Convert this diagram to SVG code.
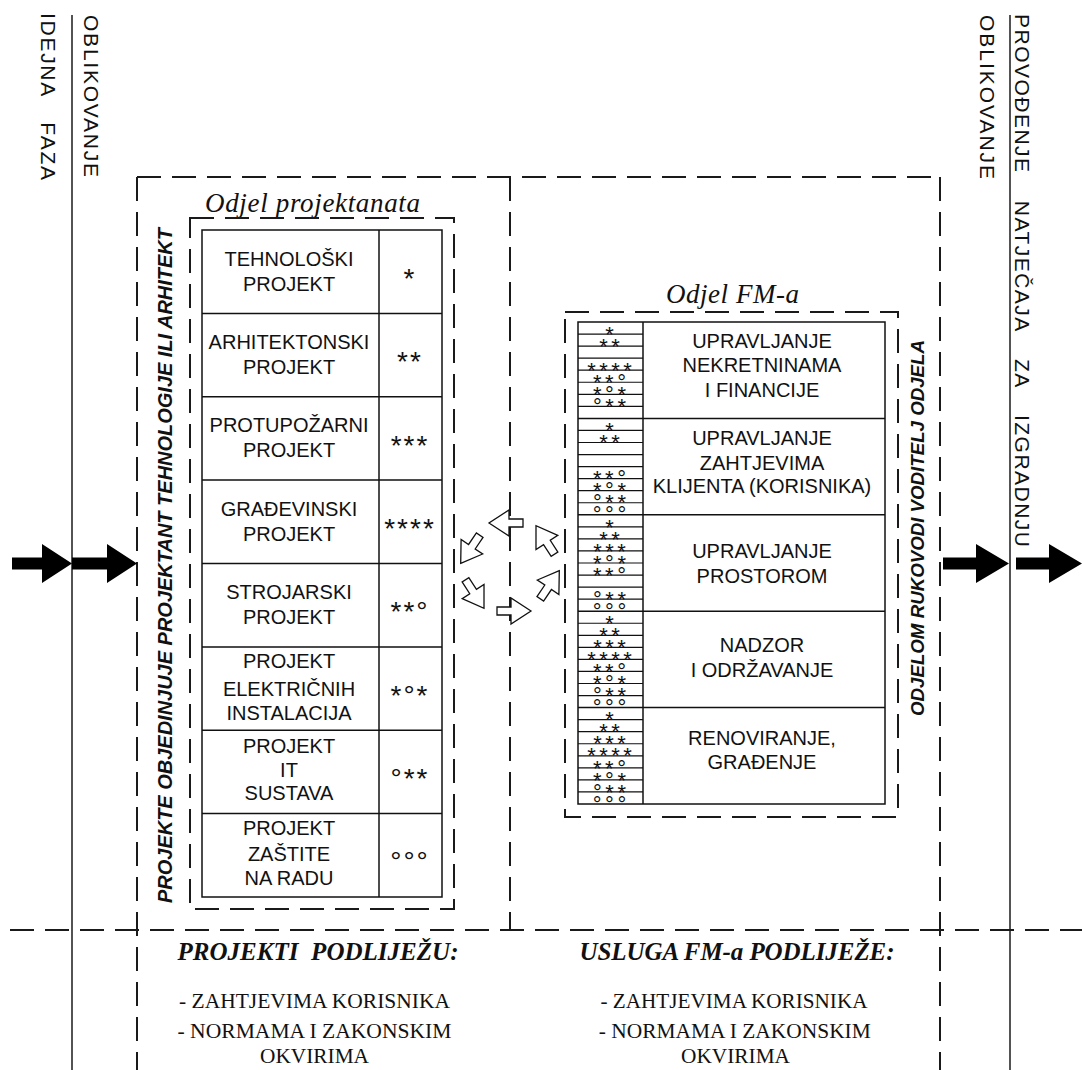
<svg xmlns="http://www.w3.org/2000/svg" width="1082" height="1070" viewBox="0 0 1082 1070">
<style>
.solid{stroke:#1a1a1a;stroke-width:1.5;fill:none}
.dash{stroke:#1a1a1a;stroke-width:2;fill:none;stroke-dasharray:24 11}
.tbl{stroke:#111;stroke-width:1.5;fill:none}
.sub{stroke:#111;stroke-width:1.2;fill:none}
.t{font-family:"Liberation Sans",Arial,sans-serif;font-size:20px;fill:#111;text-anchor:middle}
.sym{font-family:"Liberation Sans",Arial,sans-serif;font-size:28px;fill:#111;text-anchor:middle;letter-spacing:2px}
.sym2{font-family:"Liberation Sans",Arial,sans-serif;font-size:22px;fill:#111;text-anchor:middle;letter-spacing:3.5px}
.vt{font-family:"Liberation Sans",Arial,sans-serif;font-size:21px;fill:#111}
.vb{font-family:"Liberation Sans",Arial,sans-serif;font-weight:bold;font-style:italic;fill:#111;text-anchor:middle}
.ti{font-family:"Liberation Serif","Times New Roman",serif;font-style:italic;font-size:27px;fill:#111;text-anchor:middle}
.bt{font-family:"Liberation Serif","Times New Roman",serif;font-weight:bold;font-style:italic;font-size:25px;fill:#111;text-anchor:middle}
.bl{font-family:"Liberation Serif","Times New Roman",serif;font-size:22px;fill:#111;text-anchor:middle}
.big{fill:#000}
.small{fill:#fff;stroke:#111;stroke-width:1.3;stroke-linejoin:miter}
</style>
<defs>
<polygon id="sa" points="0,0 -20,-13 -20,-4 -34,-4 -34,4 -20,4 -20,13"/>
</defs>
<rect width="1082" height="1070" fill="#fff"/>

<g id="frame">
<line class="solid" x1="72" y1="15" x2="72" y2="1070"/>
<line class="solid" x1="1010" y1="15" x2="1010" y2="1070"/>
<line class="dash" x1="137" y1="177" x2="940" y2="177"/>
<line class="dash" x1="137" y1="177" x2="137" y2="1070"/>
<line class="dash" x1="940" y1="177" x2="940" y2="1070"/>
<line class="dash" x1="510" y1="177" x2="510" y2="930"/>
<line class="dash" x1="10" y1="930" x2="1082" y2="930"/>
</g>

<g id="phase-labels">
<text class="vt" transform="translate(41,13) rotate(90)" textLength="167" lengthAdjust="spacing" word-spacing="18">IDEJNA FAZA</text>
<text class="vt" transform="translate(84,15) rotate(90)" textLength="162" lengthAdjust="spacing">OBLIKOVANJE</text>
<text class="vt" transform="translate(980,15) rotate(90)" textLength="164" lengthAdjust="spacing">OBLIKOVANJE</text>
<text class="vt" transform="translate(1015,14) rotate(90)" textLength="533" lengthAdjust="spacing" word-spacing="20">PROVOĐENJE NATJEČAJA ZA IZGRADNJU</text>
</g>

<g id="projects-dept">
<text class="vb" font-size="20" transform="translate(172,565.5) rotate(-90)" textLength="675" lengthAdjust="spacingAndGlyphs">PROJEKTE OBJEDINJUJE PROJEKTANT TEHNOLOGIJE ILI ARHITEKT</text>
<text class="ti" x="312.5" y="212" textLength="215" lengthAdjust="spacing">Odjel projektanata</text>
<rect class="dash" x="190" y="218" width="264" height="691"/>
<rect class="tbl" x="202" y="230" width="240" height="667"/>
<line class="tbl" x1="379" y1="230" x2="379" y2="897"/>
<path class="tbl" d="M202 313.4H442M202 396.75H442M202 480.1H442M202 563.5H442M202 646.9H442M202 730.25H442M202 813.6H442"/>
<g id="p1"><text class="t" x="289" y="265.5">TEHNOLOŠKI</text><text class="t" x="289" y="290.5">PROJEKT</text><text class="sym" x="410" y="288">*</text></g>
<g id="p2"><text class="t" x="289" y="349">ARHITEKTONSKI</text><text class="t" x="289" y="374">PROJEKT</text><text class="sym" x="410" y="371">**</text></g>
<g id="p3"><text class="t" x="289" y="432">PROTUPOŽARNI</text><text class="t" x="289" y="457">PROJEKT</text><text class="sym" x="410" y="454.5">***</text></g>
<g id="p4"><text class="t" x="289" y="516">GRAĐEVINSKI</text><text class="t" x="289" y="541">PROJEKT</text><text class="sym" x="410" y="538">****</text></g>
<g id="p5"><text class="t" x="289" y="599">STROJARSKI</text><text class="t" x="289" y="623.5">PROJEKT</text><text class="sym" x="410" y="621">**°</text></g>
<g id="p6"><text class="t" x="289" y="668">PROJEKT</text><text class="t" x="289" y="696">ELEKTRIČNIH</text><text class="t" x="289" y="720">INSTALACIJA</text><text class="sym" x="410" y="704.5">*°*</text></g>
<g id="p7"><text class="t" x="289" y="753">PROJEKT</text><text class="t" x="289" y="777">IT</text><text class="t" x="289" y="800">SUSTAVA</text><text class="sym" x="410" y="788">°**</text></g>
<g id="p8"><text class="t" x="289" y="835">PROJEKT</text><text class="t" x="289" y="861">ZAŠTITE</text><text class="t" x="289" y="885">NA RADU</text><text class="sym" x="410" y="871">°°°</text></g>
</g>

<g id="fm-dept">
<text class="ti" x="732.5" y="303" textLength="133" lengthAdjust="spacing">Odjel FM-a</text>
<rect class="dash" x="565" y="312" width="333" height="505"/>
<rect class="tbl" x="578" y="322" width="307" height="482"/>
<line class="tbl" x1="643" y1="322" x2="643" y2="804"/>
<path class="tbl" d="M578 418.4H885M578 514.8H885M578 611.2H885M578 707.6H885"/>
<path class="sub" d="M578 334.05H643M578 346.1H643M578 358.15H643M578 370.2H643M578 382.25H643M578 394.3H643M578 406.35H643
M578 430.45H643M578 442.5H643M578 454.55H643M578 466.6H643M578 478.65H643M578 490.7H643M578 502.75H643
M578 526.85H643M578 538.9H643M578 550.95H643M578 563H643M578 575.05H643M578 587.1H643M578 599.15H643
M578 623.25H643M578 635.3H643M578 647.35H643M578 659.4H643M578 671.45H643M578 683.5H643M578 695.55H643
M578 719.65H643M578 731.7H643M578 743.75H643M578 755.8H643M578 767.85H643M578 779.9H643M578 791.95H643"/>
<g id="fm1">
<text class="t" x="762" y="348">UPRAVLJANJE</text><text class="t" x="762" y="372">NEKRETNINAMA</text><text class="t" x="762" y="397">I FINANCIJE</text>
</g>
<g id="fm2">
<text class="t" x="762" y="445">UPRAVLJANJE</text><text class="t" x="762" y="470">ZAHTJEVIMA</text><text class="t" x="762" y="493">KLIJENTA (KORISNIKA)</text>
</g>
<g id="fm3">
<text class="t" x="762" y="558">UPRAVLJANJE</text><text class="t" x="762" y="583">PROSTOROM</text>
</g>
<g id="fm4">
<text class="t" x="762" y="652">NADZOR</text><text class="t" x="762" y="677">I ODRŽAVANJE</text>
</g>
<g id="fm5">
<text class="t" x="762" y="745">RENOVIRANJE,</text><text class="t" x="762" y="769">GRAĐENJE</text>
</g>
<g id="fm-symbols">
<text class="sym2"><tspan x="611.25" y="341.7">*</tspan><tspan x="611.25" y="353.7">**</tspan><tspan x="611.25" y="377.8">****</tspan><tspan x="611.25" y="389.9">**°</tspan><tspan x="611.25" y="401.9">*°*</tspan><tspan x="611.25" y="414">°**</tspan><tspan x="611.25" y="438.1">*</tspan><tspan x="611.25" y="450.1">**</tspan><tspan x="611.25" y="486.3">**°</tspan><tspan x="611.25" y="498.3">*°*</tspan><tspan x="611.25" y="510.4">°**</tspan><tspan x="611.25" y="522.4">°°°</tspan><tspan x="611.25" y="534.5">*</tspan><tspan x="611.25" y="546.5">**</tspan><tspan x="611.25" y="558.6">***</tspan><tspan x="611.25" y="570.6">*°*</tspan><tspan x="611.25" y="582.7">**°</tspan><tspan x="611.25" y="606.8">°**</tspan><tspan x="611.25" y="618.8">°°°</tspan><tspan x="611.25" y="630.9">*</tspan><tspan x="611.25" y="642.9">**</tspan><tspan x="611.25" y="655">***</tspan><tspan x="611.25" y="667">****</tspan><tspan x="611.25" y="679.1">**°</tspan><tspan x="611.25" y="691.1">*°*</tspan><tspan x="611.25" y="703.2">°**</tspan><tspan x="611.25" y="715.2">°°°</tspan><tspan x="611.25" y="727.3">*</tspan><tspan x="611.25" y="739.3">**</tspan><tspan x="611.25" y="751.4">***</tspan><tspan x="611.25" y="763.4">****</tspan><tspan x="611.25" y="775.5">**°</tspan><tspan x="611.25" y="787.5">*°*</tspan><tspan x="611.25" y="799.6">°**</tspan><tspan x="611.25" y="811.6">°°°</tspan></text>
</g>
<text class="vb" font-size="19" transform="translate(924,528) rotate(-90)" textLength="376" lengthAdjust="spacingAndGlyphs">ODJELOM RUKOVODI VODITELJ ODJELA</text>
</g>

<g id="notes">
<text class="bt" x="318" y="960" textLength="281" lengthAdjust="spacing" xml:space="preserve">PROJEKTI  PODLIJEŽU:</text>
<text class="bl" x="314.5" y="1008" textLength="271" lengthAdjust="spacingAndGlyphs">- ZAHTJEVIMA KORISNIKA</text>
<text class="bl" x="314.5" y="1038" textLength="274" lengthAdjust="spacingAndGlyphs">- NORMAMA I ZAKONSKIM</text>
<text class="bl" x="314.5" y="1063" textLength="109" lengthAdjust="spacingAndGlyphs">OKVIRIMA</text>
<text class="bt" x="737" y="960" textLength="315" lengthAdjust="spacing">USLUGA FM-a PODLIJEŽE:</text>
<text class="bl" x="734" y="1008" textLength="267" lengthAdjust="spacingAndGlyphs">- ZAHTJEVIMA KORISNIKA</text>
<text class="bl" x="734.8" y="1038" textLength="272" lengthAdjust="spacingAndGlyphs">- NORMAMA I ZAKONSKIM</text>
<text class="bl" x="735.5" y="1063" textLength="109" lengthAdjust="spacingAndGlyphs">OKVIRIMA</text>
</g>

<g id="connectors">
<polygon class="big" points="12,557.5 42,557.5 42,544 72,563.5 42,583 42,569.5 12,569.5"/>
<polygon class="big" points="72,557.5 107,557.5 107,544 137,563.5 107,583 107,569.5 72,569.5"/>
<polygon class="big" points="943,557.5 976,557.5 976,544 1009,563.5 976,583 976,569.5 943,569.5"/>
<polygon class="big" points="1016,557.5 1049,557.5 1049,544 1082,563.5 1049,583 1049,569.5 1016,569.5"/>
<use href="#sa" class="small" transform="translate(489,523) rotate(180)"/>
<use href="#sa" class="small" transform="translate(460.7,563.3) rotate(124)"/>
<use href="#sa" class="small" transform="translate(484,608.3) rotate(57)"/>
<use href="#sa" class="small" transform="translate(531,611)"/>
<use href="#sa" class="small" transform="translate(559.3,570.7) rotate(-56)"/>
<use href="#sa" class="small" transform="translate(536,525.7) rotate(237)"/>
</g>
</svg>
